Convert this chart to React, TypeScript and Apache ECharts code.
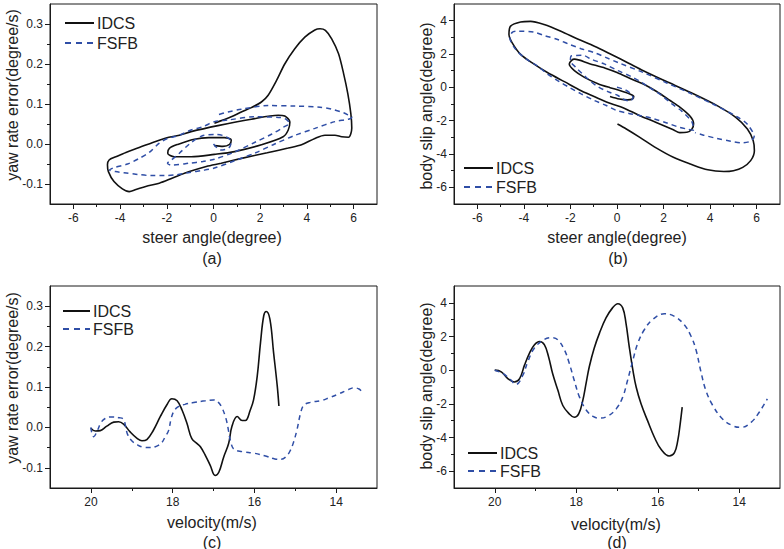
import React, { useEffect, useRef } from 'react';
import * as echarts from 'echarts';

// ---------- tick values ----------
const steerTicks = [-6, -4, -2, 0, 2, 4, 6];
const steerMinor = [-5, -3, -1, 1, 3, 5];
const yawTicks = [-0.1, 0, 0.1, 0.2, 0.3];
const yawMinor = [-0.05, 0.05, 0.15, 0.25];
const slipTicks = [-6, -4, -2, 0, 2, 4];
const slipMinor = [-5, -3, -1, 1, 3];
const velTicks = [20, 18, 16, 14];
const velMinor = [19, 17, 15];

// ---------- (a) yaw rate error vs steer angle ----------
const yawSteerIDCS = [
  [0.04, -0.004], [0.4, -0.006], [0.69, -0.001], [0.76, 0.01], [0.47, 0.016], [-0.2, 0.016],
  [-0.82, 0.012], [-1.53, -0.001], [-1.89, -0.011], [-1.96, -0.023], [-1.68, -0.032], [-0.96, -0.032],
  [0.04, -0.026], [0.9, -0.019], [2.05, -0.002], [2.98, 0.018], [3.2, 0.035], [3.27, 0.055],
  [3.05, 0.07], [2.77, 0.072], [1.62, 0.062], [0.19, 0.046], [-0.96, 0.031], [-1.46, 0.022],
  [-2.03, 0.015], [-2.6, 0.004], [-3.18, -0.009], [-3.75, -0.021], [-4.18, -0.032], [-4.47, -0.04],
  [-4.54, -0.052], [-4.5, -0.069], [-4.26, -0.094], [-3.9, -0.112], [-3.61, -0.119], [-3.32, -0.114],
  [-2.9, -0.106], [-2.32, -0.098], [-1.75, -0.085], [-1.03, -0.069], [-0.31, -0.056], [0.33, -0.048],
  [1.2, -0.036], [2.3, -0.022], [3.2, -0.01], [3.77, -0.002], [4.34, 0.014], [4.77, 0.022],
  [5.2, 0.022], [5.49, 0.018], [5.78, 0.017], [5.92, 0.04], [5.88, 0.076], [5.75, 0.126],
  [5.57, 0.176], [5.35, 0.226], [5.06, 0.263], [4.79, 0.284], [4.56, 0.288], [4.34, 0.285],
  [3.91, 0.267], [3.48, 0.238], [3.05, 0.2], [2.7, 0.159], [2.34, 0.122], [2.05, 0.105],
  [1.62, 0.091], [1.19, 0.08], [0.76, 0.068], [0.04, 0.052],
];
const yawSteerFSFB = [
  [0, 0], [0.3, -0.015], [0.65, -0.01], [0.76, 0.005], [0.55, 0.018], [0.1, 0.024], [-0.5, 0.02],
  [-1.03, 0.0], [-1.46, -0.023], [-1.8, -0.04], [-1.97, -0.048], [-1.8, -0.053], [-1.03, -0.048],
  [-0.46, -0.044], [0.04, -0.038], [0.9, -0.02], [1.8, 0.005], [2.5, 0.025], [3.0, 0.042],
  [3.25, 0.052], [3.1, 0.062], [2.91, 0.066], [1.76, 0.068], [0.62, 0.06], [0.04, 0.056],
  [-0.46, 0.043], [-0.96, 0.035], [-1.46, 0.022], [-1.96, 0.014], [-2.32, 0.002], [-2.75, -0.021],
  [-3.18, -0.036], [-3.68, -0.05], [-4.26, -0.059], [-4.45, -0.065], [-4.2, -0.069], [-3.83, -0.072],
  [-3.25, -0.076], [-2.68, -0.079], [-2.1, -0.079], [-1.6, -0.077], [-1.03, -0.071], [-0.46, -0.066],
  [0.04, -0.06], [0.9, -0.042], [1.8, -0.022], [2.62, 0.0], [3.5, 0.022], [4.34, 0.039],
  [5.2, 0.056], [5.78, 0.062], [5.92, 0.067], [5.75, 0.073], [5.57, 0.078], [5.06, 0.087],
  [4.56, 0.092], [3.48, 0.095], [2.34, 0.096], [1.19, 0.087], [0.62, 0.08], [0.12, 0.072],
];

// ---------- (b) body slip angle vs steer angle ----------
const slipSteerIDCS = [
  [-0.3, -0.55], [0.1, -0.7], [0.45, -0.75], [0.66, -0.7], [0.72, -0.55], [0.55, -0.4],
  [0.15, -0.2], [-0.3, -0.02], [-0.82, 0.22], [-1.4, 0.6], [-1.83, 1.0], [-2.05, 1.4],
  [-1.95, 1.62], [-1.83, 1.69], [-1.18, 1.42], [-0.5, 1.15], [0.0, 0.89], [0.69, 0.45],
  [1.13, 0.2], [1.7, -0.25], [2.28, -0.79], [2.71, -1.2], [3.15, -1.75], [3.29, -2.18],
  [3.22, -2.5], [3.0, -2.7], [2.7, -2.72], [2.42, -2.55], [1.71, -2.12], [0.98, -1.7],
  [0.26, -1.22], [-0.24, -0.99], [-0.82, -0.65], [-1.54, -0.2], [-2.26, 0.34], [-2.99, 0.89],
  [-3.56, 1.39], [-4.14, 1.98], [-4.5, 2.67], [-4.64, 3.17], [-4.57, 3.67], [-4.14, 3.92],
  [-3.71, 3.96], [-3.13, 3.77], [-2.41, 3.37], [-1.69, 2.9], [-0.97, 2.47], [-0.24, 1.97],
  [0.5, 1.45], [1.13, 1.0], [2.2, 0.3], [3.3, -0.4], [4.3, -1.1], [5.1, -1.8],
  [5.6, -2.5], [5.85, -3.2], [5.9, -3.8], [5.74, -4.4], [5.4, -4.8], [5.0, -5.0],
  [4.59, -5.05], [3.9, -4.95], [3.15, -4.6], [2.42, -4.2], [1.7, -3.65], [0.98, -3.0],
  [0.4, -2.5], [0.02, -2.2],
];
const slipSteerFSFB = [
  [0, 0], [0.35, -0.15], [0.6, -0.4], [0.69, -0.62], [0.55, -0.82], [0.25, -0.7], [0.04, -0.49],
  [-0.39, -0.26], [-0.89, 0.1], [-1.32, 0.59], [-1.76, 1.19], [-2.0, 1.6], [-1.97, 1.88],
  [-1.47, 1.92], [-1.11, 1.69], [-0.53, 1.39], [0.04, 1.0], [0.62, 0.64], [1.06, 0.3],
  [1.49, -0.1], [1.92, -0.49], [2.36, -0.99], [2.79, -1.44], [3.22, -2.08], [3.29, -2.57],
  [3.0, -2.5], [2.64, -2.38], [2.14, -2.14], [1.56, -1.88], [1.06, -1.72], [0.55, -1.58],
  [-0.03, -1.38], [-0.46, -1.09], [-0.97, -0.79], [-1.54, -0.39], [-2.05, 0], [-2.48, 0.34],
  [-2.99, 0.8], [-3.42, 1.29], [-3.92, 1.72], [-4.35, 2.28], [-4.6, 2.97], [-4.5, 3.3],
  [-4.28, 3.37], [-3.56, 3.31], [-3.13, 3.11], [-2.55, 2.87], [-2.05, 2.58], [-1.54, 2.32],
  [-0.97, 2.08], [-0.46, 1.78], [0.04, 1.49], [1.13, 0.89], [2.14, 0.26], [3.15, -0.36],
  [4.16, -1.03], [5.17, -1.78], [5.6, -2.22], [5.89, -2.97], [5.7, -3.25], [5.39, -3.33],
  [4.88, -3.23], [4.3, -3.07], [3.72, -2.87], [3.35, -2.72],
];

// ---------- (c) yaw rate error vs velocity ----------
const yawVelIDCS = [
  [20, -0.002], [19.89, -0.009], [19.77, -0.008], [19.61, 0.003], [19.44, 0.013], [19.32, 0.014],
  [19.2, 0.008], [19.04, -0.011], [18.87, -0.027], [18.75, -0.033], [18.63, -0.03], [18.47, -0.007],
  [18.3, 0.027], [18.14, 0.056], [18.02, 0.071], [17.89, 0.066], [17.77, 0.043], [17.65, 0.01],
  [17.53, -0.028], [17.4, -0.04], [17.32, -0.048], [17.2, -0.069], [17.08, -0.094], [16.96, -0.119],
  [16.87, -0.111], [16.75, -0.073], [16.63, -0.04], [16.55, 0.002], [16.42, 0.027], [16.3, 0.017],
  [16.22, 0.017], [16.1, 0.043], [16.02, 0.068], [15.93, 0.127], [15.85, 0.21], [15.77, 0.277],
  [15.71, 0.287], [15.62, 0.268], [15.53, 0.185], [15.44, 0.102], [15.4, 0.053],
];
const yawVelFSFB = [
  [20, 0], [19.98, -0.012], [19.93, -0.023], [19.85, -0.01], [19.75, 0.012], [19.65, 0.022],
  [19.5, 0.026], [19.3, 0.024], [19.2, 0.02], [19.15, 0.002], [19.1, -0.018], [19.0, -0.033],
  [18.88, -0.042], [18.72, -0.049], [18.55, -0.05], [18.4, -0.047], [18.27, -0.038], [18.18, -0.023],
  [18.1, -0.008], [18.04, 0.02], [17.98, 0.038], [17.88, 0.05], [17.7, 0.057], [17.45, 0.062],
  [17.2, 0.066], [17.0, 0.068], [16.88, 0.062], [16.79, 0.048], [16.72, 0.03], [16.67, 0.012],
  [16.63, -0.01], [16.58, -0.035], [16.5, -0.054], [16.3, -0.06], [16.0, -0.064], [15.75, -0.07],
  [15.5, -0.078], [15.35, -0.079], [15.22, -0.072], [15.12, -0.057], [15.04, -0.036], [14.96, -0.007],
  [14.87, 0.035], [14.79, 0.055], [14.63, 0.062], [14.38, 0.066], [14.18, 0.073], [13.98, 0.081],
  [13.73, 0.092], [13.57, 0.098], [13.44, 0.095], [13.36, 0.087],
];

// ---------- (d) body slip angle vs velocity ----------
const slipVelIDCS = [
  [20, 0], [19.84, -0.1], [19.68, -0.5], [19.52, -0.7], [19.39, -0.5], [19.27, 0.3], [19.15, 1.0],
  [19.03, 1.5], [18.9, 1.7], [18.78, 1.5], [18.68, 0.8], [18.58, -0.2], [18.45, -1.2], [18.33, -2.1],
  [18.17, -2.6], [18.05, -2.8], [17.94, -2.6], [17.84, -1.8], [17.76, -0.8], [17.68, 0.2],
  [17.56, 1.3], [17.43, 2.2], [17.27, 3.1], [17.11, 3.7], [16.98, 3.95], [16.86, 3.7], [16.78, 2.8],
  [16.7, 1.4], [16.61, 0], [16.53, -1.0], [16.41, -2.0], [16.25, -3.0], [16.08, -4.0], [15.92, -4.7],
  [15.72, -5.1], [15.59, -4.9], [15.51, -4.2], [15.45, -3.2], [15.4, -2.2],
];
const slipVelFSFB = [
  [20, 0], [19.8, -0.2], [19.62, -0.55], [19.48, -0.85], [19.31, -0.3], [19.19, 0.5], [19.03, 1.3],
  [18.78, 1.83], [18.58, 1.93], [18.45, 1.8], [18.29, 1.2], [18.17, 0.4], [18.05, -0.6], [17.92, -1.6],
  [17.76, -2.35], [17.6, -2.73], [17.43, -2.85], [17.23, -2.73], [17.02, -2.3], [16.86, -1.6],
  [16.74, -0.6], [16.62, 0.5], [16.49, 1.6], [16.33, 2.4], [16.13, 3.0], [15.84, 3.35], [15.59, 3.2],
  [15.35, 2.7], [15.18, 2.0], [15.06, 1.2], [14.94, -0.1], [14.82, -1.2], [14.65, -2.1], [14.41, -2.9],
  [14.16, -3.3], [13.96, -3.4], [13.71, -3.1], [13.51, -2.5], [13.31, -1.7],
];

const seriesNames = ['IDCS', 'FSFB'];

const FONT = '"Liberation Sans", Arial, Helvetica, sans-serif';
const AXC = '#1a1a1a';
const TXT = '#222';
const IDCS_COLOR = '#111111';
const FSFB_COLOR = '#2f4ea6';

function axisPair(kind: 'x' | 'y', grid: number, min: number, max: number, major: number[], minor: number[], fmt: (v: number) => string, inverse = false) {
  const base = { type: 'value', gridIndex: grid, min, max, inverse, position: kind === 'x' ? 'bottom' : 'left', splitLine: { show: false }, scale: false };
  return [
    {
      ...base,
      axisLine: { show: true, onZero: false, lineStyle: { color: AXC, width: 1 } },
      axisTick: { show: true, inside: false, length: 5, customValues: major, lineStyle: { color: AXC, width: 1 } },
      axisLabel: { show: true, customValues: major, margin: kind === 'x' ? 8 : 7, color: TXT, fontSize: 12, fontFamily: FONT, formatter: fmt },
    },
    {
      ...base,
      axisLine: { show: false, onZero: false },
      axisTick: { show: true, inside: false, length: 3, customValues: minor, lineStyle: { color: AXC, width: 1 } },
      axisLabel: { show: false },
    },
  ];
}

const intFmt = (v: number) => String(Math.round(v));
const oneDec = (v: number) => v.toFixed(1);

function lineSeries(name: string, data: number[][], gi: number, dashed: boolean, smooth: number) {
  return {
    type: 'line',
    name,
    data,
    xAxisIndex: gi * 2,
    yAxisIndex: gi * 2,
    symbol: 'none',
    showSymbol: false,
    smooth,
    color: dashed ? FSFB_COLOR : IDCS_COLOR,
    lineStyle: dashed
      ? { color: FSFB_COLOR, width: 1.5, type: [5, 4] }
      : { color: IDCS_COLOR, width: 1.6 },
    emphasis: { disabled: true },
    silent: true,
  };
}

// legend drawn as graphic: sample line + label for each series
function legendBlock(x0: number, x1: number, yIDCS: number, yFSFB: number) {
  const rows = [
    { name: seriesNames[0], y: yIDCS, color: IDCS_COLOR, dash: null as null | number[] },
    { name: seriesNames[1], y: yFSFB, color: FSFB_COLOR, dash: [6, 5] },
  ];
  const out: any[] = [];
  rows.forEach((r) => {
    out.push({
      type: 'line', silent: true,
      shape: { x1: x0, y1: r.y, x2: x1, y2: r.y },
      style: { stroke: r.color, lineWidth: 2, lineDash: r.dash || undefined },
    });
    out.push({
      type: 'text', x: x1 + 3, y: r.y, silent: true,
      style: {
        text: r.name, fill: TXT, fontSize: 16, fontFamily: FONT,
        align: 'left', verticalAlign: 'middle', textAlign: 'left', textVerticalAlign: 'middle',
      },
    });
  });
  return out;
}

function label(text: string, x: number, y: number, rotate = false) {
  return {
    type: 'text', x, y, rotation: rotate ? Math.PI / 2 : 0, silent: true,
    style: {
      text, fill: TXT, fontSize: 16, fontFamily: FONT,
      align: 'center', verticalAlign: 'middle', textAlign: 'center', textVerticalAlign: 'middle',
    },
  };
}

const grids = [
  { left: 50, top: 4, width: 327, height: 200 },
  { left: 454, top: 4, width: 326, height: 200 },
  { left: 50, top: 286, width: 327, height: 202 },
  { left: 454, top: 286, width: 326, height: 202 },
].map((g) => ({ ...g, show: true, borderColor: AXC, borderWidth: 1, backgroundColor: 'transparent', containLabel: false }));

const option = {
  animation: false,
  backgroundColor: '#ffffff',
  grid: grids,
  xAxis: [
    ...axisPair('x', 0, -7, 7, steerTicks, steerMinor, intFmt),
    ...axisPair('x', 1, -7, 7, steerTicks, steerMinor, intFmt),
    ...axisPair('x', 2, 13, 21, velTicks, velMinor, intFmt, true),
    ...axisPair('x', 3, 13, 21, velTicks, velMinor, intFmt, true),
  ],
  yAxis: [
    ...axisPair('y', 0, -0.15, 0.35, yawTicks, yawMinor, oneDec),
    ...axisPair('y', 1, -7, 5, slipTicks, slipMinor, intFmt),
    ...axisPair('y', 2, -0.15, 0.35, yawTicks, yawMinor, oneDec),
    ...axisPair('y', 3, -7, 5, slipTicks, slipMinor, intFmt),
  ],
  series: [
    lineSeries('IDCS', yawSteerIDCS, 0, false, 0.3),
    lineSeries('FSFB', yawSteerFSFB, 0, true, 0.3),
    lineSeries('IDCS', slipSteerIDCS, 1, false, 0.3),
    lineSeries('FSFB', slipSteerFSFB, 1, true, 0.3),
    lineSeries('IDCS', yawVelIDCS, 2, false, 0.4),
    lineSeries('FSFB', yawVelFSFB, 2, true, 0.4),
    lineSeries('IDCS', slipVelIDCS, 3, false, 0.4),
    lineSeries('FSFB', slipVelFSFB, 3, true, 0.4),
  ],
  graphic: [
    ...legendBlock(65, 94, 23, 43),
    ...legendBlock(464, 493, 168, 187),
    ...legendBlock(63, 90, 311, 329),
    ...legendBlock(468, 497, 453, 471),
    label('steer angle(degree)', 212, 237),
    label('(a)', 212, 258),
    label('yaw rate error(degree/s)', 12, 95, true),
    label('steer angle(degree)', 617, 237),
    label('(b)', 618, 258),
    label('body slip angle(degree)', 426, 106, true),
    label('velocity(m/s)', 212, 522),
    label('(c)', 212, 542),
    label('yaw rate error(degree/s)', 12, 378, true),
    label('velocity(m/s)', 616, 524),
    label('(d)', 617, 542),
    label('body slip angle(degree)', 426, 386, true),
  ],
};

export default function App() {
  const ref = useRef<HTMLDivElement>(null);
  useEffect(() => {
    if (!ref.current) return;
    const chart = echarts.init(ref.current, null, { renderer: 'svg' });
    chart.setOption(option as any);
    return () => chart.dispose();
  }, []);
  return (
    <div
      ref={ref}
      style={{ position: 'fixed', left: 0, top: 0, width: 784, height: 549, background: '#fff' }}
    />
  );
}
